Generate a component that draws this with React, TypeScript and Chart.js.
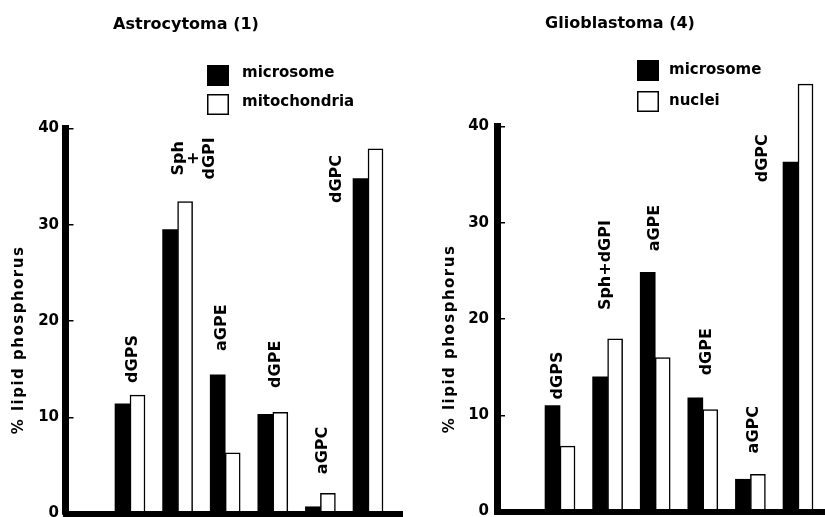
import { useEffect, useRef } from 'react';
import { Chart, registerables } from 'chart.js';

Chart.register(...registerables);

const FONT = '"DejaVu Sans", "Liberation Sans", sans-serif';

// ---- data ----
const categories = ['dGPS', 'Sph+dGPI', 'aGPE', 'dGPE', 'aGPC', 'dGPC'];
const yTicks = [0, 10, 20, 30, 40];
const yTitle = '% lipid phosphorus';

const astroTitle = 'Astrocytoma (1)';
const astroSeries = ['microsome', 'mitochondria'];
const astroMicrosome = [11.4, 29.5, 14.4, 10.3, 0.7, 34.8];
const astroMitochondria = [12.3, 32.4, 6.3, 10.5, 2.1, 37.9];
const astroLabels = [['dGPS'], ['Sph', '+', 'dGPI'], ['aGPE'], ['dGPE'], ['aGPC'], ['dGPC']];
const astroLabelAtX = [1.06, 2.345, 2.93, 4.07, 5.05, 5.35];
const astroLabelAtY = [16.05, 36.9, 19.3, 15.5, 6.55, 34.75];

const glioTitle = 'Glioblastoma (4)';
const glioSeries = ['microsome', 'nuclei'];
const glioMicrosome = [11.0, 14.0, 24.85, 11.8, 3.35, 36.3];
const glioNuclei = [6.8, 17.95, 16.0, 10.6, 3.85, 44.4];
const glioLabels = [['dGPS'], ['Sph+dGPI'], ['aGPE'], ['dGPE'], ['aGPC'], ['dGPC']];
const glioLabelAtX = [0.96, 1.97, 3.0, 4.09, 5.08, 5.27];
const glioLabelAtY = [14.13, 25.6, 29.45, 16.6, 8.5, 36.7];

// ---- decoration plugin: title, legend, y title, bar labels ----
const decorPlugin = {
  id: 'decor',
  afterDraw(chart: any, _args: any, o: any) {
    const { ctx } = chart;
    const xs = chart.scales.x;
    const ys = chart.scales.y;
    ctx.save();
    ctx.fillStyle = '#000';

    // title
    ctx.font = `bold 16px ${FONT}`;
    ctx.textAlign = 'center';
    ctx.textBaseline = 'alphabetic';
    ctx.fillText(o.title, o.titleX, o.titleY);

    // legend
    ctx.font = `bold 15px ${FONT}`;
    ctx.textAlign = 'left';
    chart.data.datasets.forEach((ds: any, i: number) => {
      const bx = o.legendX;
      const by = o.legendY + i * o.legendRow;
      ctx.fillStyle = ds.backgroundColor;
      ctx.fillRect(bx, by, 22, 21);
      if (ds.borderWidth) {
        ctx.lineWidth = 1.5;
        ctx.strokeStyle = ds.borderColor;
        ctx.strokeRect(bx + 0.75, by + 0.75, 20.5, 19.5);
      }
      ctx.fillStyle = '#000';
      ctx.fillText(ds.label, bx + o.legendTextDx, by + o.legendBaseDy);
    });

    // y axis title
    ctx.save();
    ctx.translate(o.yTitleX, o.yTitleY);
    ctx.rotate(-Math.PI / 2);
    ctx.font = `bold 15px ${FONT}`;
    try { (ctx as any).letterSpacing = '1.5px'; } catch (e) { /* ignore */ }
    ctx.textAlign = 'center';
    ctx.textBaseline = 'middle';
    ctx.fillText(o.yTitle, 0, 0);
    try { (ctx as any).letterSpacing = '0px'; } catch (e) { /* ignore */ }
    ctx.restore();

    // bar labels
    ctx.font = `bold 16px ${FONT}`;
    o.labels.forEach((lines: string[], i: number) => {
      const px = xs.getPixelForValue(o.labelAtX[i]);
      const py = ys.getPixelForValue(o.labelAtY[i]);
      ctx.save();
      ctx.translate(px, py);
      ctx.rotate(-Math.PI / 2);
      ctx.textAlign = 'center';
      ctx.textBaseline = 'middle';
      lines.forEach((ln, j) => ctx.fillText(ln, 0, (j - (lines.length - 1) / 2) * 15.5));
      ctx.restore();
    });
    ctx.restore();
  },
};

function buildConfig(p: any) {
  const toPts = (arr: number[]) => arr.map((v, i) => ({ x: i + 1, y: v, c: categories[i] }));
  return {
    type: 'bar',
    data: {
      datasets: [
        {
          label: p.series[0],
          data: toPts(p.a),
          backgroundColor: '#000',
          borderColor: '#000',
          borderWidth: 0,
          barThickness: 15,
          clip: false,
        },
        {
          label: p.series[1],
          data: toPts(p.b),
          backgroundColor: '#fff',
          borderColor: '#000',
          borderWidth: 1.5,
          borderSkipped: 'start',
          barThickness: 15,
          clip: false,
        },
      ],
    },
    options: {
      animation: false,
      responsive: false,
      events: [],
      layout: { padding: { left: 0, right: p.padRight, top: p.padTop, bottom: p.padBottom } },
      plugins: {
        legend: { display: false },
        title: { display: false },
        tooltip: { enabled: false },
        decor: p.decor,
      },
      scales: {
        x: {
          type: 'linear',
          min: p.xMin,
          max: p.xMax,
          offset: false,
          ticks: { display: false, stepSize: 1 },
          grid: { display: false, drawTicks: false },
          border: { display: true, width: 6, color: '#000', z: 1 },
          afterFit: (s: any) => { s.height = 0; },
        },
        y: {
          type: 'linear',
          min: 0,
          max: 40,
          afterBuildTicks: (s: any) => { s.ticks = yTicks.map((v) => ({ value: v })); },
          ticks: {
            font: { family: FONT, size: 15, weight: 'bold' },
            color: '#000',
            padding: p.tickPad,
          },
          grid: {
            display: true,
            drawOnChartArea: false,
            drawTicks: true,
            tickLength: -8,
            lineWidth: 1.5,
            color: '#000',
            z: 1,
          },
          border: { display: true, width: 7, color: '#000', z: 1 },
          afterFit: (s: any) => { s.width = p.yWidth; },
        },
      },
    },
    plugins: [decorPlugin],
  };
}

const astroParams = {
  series: astroSeries,
  a: astroMicrosome,
  b: astroMitochondria,
  xMin: -0.355,
  xMax: 6.714,
  yWidth: 65.5,
  padRight: 10,
  padTop: 128.5,
  padBottom: 540 - 513.5,
  tickPad: 14.5,
  decor: {
    title: astroTitle,
    titleX: 186,
    titleY: 29,
    legendX: 207,
    legendY: 65,
    legendRow: 29,
    legendTextDx: 35,
    legendBaseDy: 12,
    yTitle,
    yTitleX: 19,
    yTitleY: 340,
    labels: astroLabels,
    labelAtX: astroLabelAtX,
    labelAtY: astroLabelAtY,
  },
};

const glioParams = {
  series: glioSeries,
  a: glioMicrosome,
  b: glioNuclei,
  xMin: -0.324,
  xMax: 6.567,
  yWidth: 85,
  padRight: 0,
  padTop: 126.5,
  padBottom: 540 - 511.5,
  tickPad: 16,
  decor: {
    title: glioTitle,
    titleX: 208,
    titleY: 28,
    legendX: 225,
    legendY: 60,
    legendRow: 31,
    legendTextDx: 32,
    legendBaseDy: 14,
    yTitle,
    yTitleX: 38,
    yTitleY: 339,
    labels: glioLabels,
    labelAtX: glioLabelAtX,
    labelAtY: glioLabelAtY,
  },
};

export default function App() {
  const leftRef = useRef<HTMLCanvasElement>(null);
  const rightRef = useRef<HTMLCanvasElement>(null);
  useEffect(() => {
    const c1 = new Chart(leftRef.current as HTMLCanvasElement, buildConfig(astroParams) as any);
    const c2 = new Chart(rightRef.current as HTMLCanvasElement, buildConfig(glioParams) as any);
    return () => {
      c1.destroy();
      c2.destroy();
    };
  }, []);
  return (
    <div
      style={{
        position: 'fixed',
        left: 0,
        top: 0,
        width: 825,
        height: 517,
        overflow: 'hidden',
        background: '#fff',
      }}
    >
      <canvas ref={leftRef} width={412} height={540} style={{ position: 'absolute', left: 0, top: 0 }} />
      <canvas ref={rightRef} width={413} height={540} style={{ position: 'absolute', left: 412, top: 0 }} />
    </div>
  );
}
